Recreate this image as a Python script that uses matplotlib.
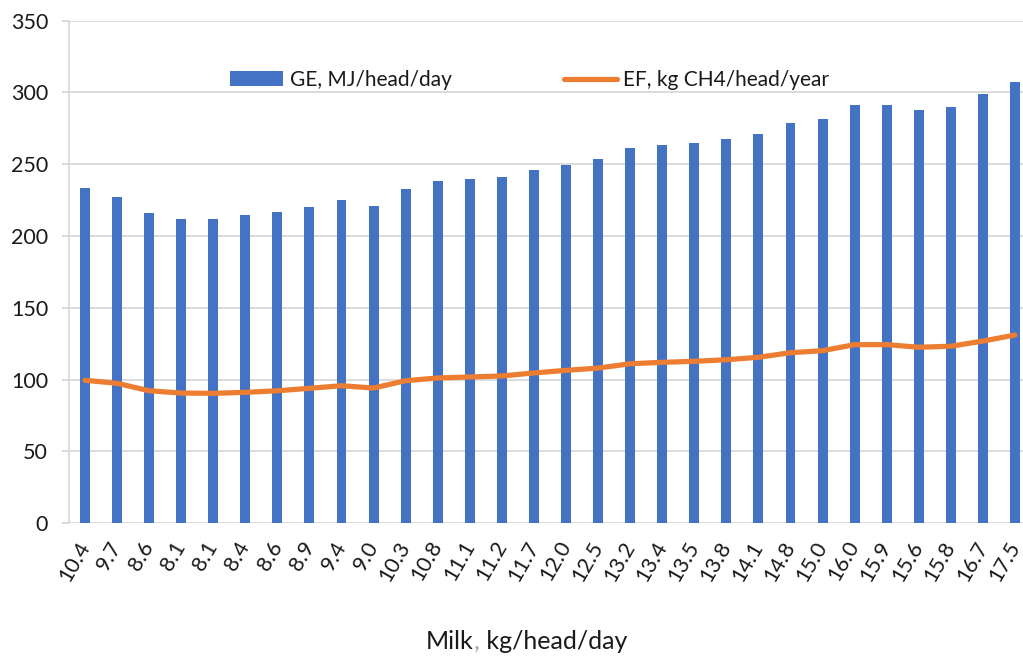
import matplotlib.pyplot as plt
import numpy as np

# Milk yield per cow, kg/head/day (category labels on the x axis)
milk = ["10.4", "9.7", "8.6", "8.1", "8.1", "8.4", "8.6", "8.9", "9.4", "9.0",
        "10.3", "10.8", "11.1", "11.2", "11.7", "12.0", "12.5", "13.2", "13.4", "13.5",
        "13.8", "14.1", "14.8", "15.0", "16.0", "15.9", "15.6", "15.8", "16.7", "17.5"]

# Gross energy intake, MJ/head/day
ge = [233.5, 227.2, 216.3, 212.1, 212.0, 214.5, 217.0, 220.3, 224.9, 220.7,
      232.6, 238.2, 239.8, 241.2, 246.2, 249.5, 253.9, 261.4, 263.2, 264.8,
      267.6, 271.1, 278.5, 281.3, 291.3, 291.3, 287.8, 289.7, 298.7, 307.5]

# Enteric methane emission factor, kg CH4/head/year
ef = [99.6, 97.5, 92.3, 90.7, 90.5, 91.2, 92.3, 94.0, 95.8, 94.2,
      99.3, 101.2, 101.9, 102.6, 104.7, 106.5, 108.1, 111.1, 112.1, 112.8,
      113.9, 115.6, 118.8, 120.2, 124.4, 124.4, 122.6, 123.3, 126.9, 131.1]

BLUE = "#4472C4"
ORANGE = "#ED7D31"
GRID = "#D9D9D9"
TEXT = "#1a1a1a"

plt.rcParams["font.family"] = ["Lato", "DejaVu Sans"]

fig = plt.figure(figsize=(10.23, 6.57), dpi=100)
ax = fig.add_axes([0.0674, 0.2035, 0.9404, 0.765])

x = np.arange(len(milk))
bars = ax.bar(x, ge, width=0.31, color=BLUE, zorder=2, label="GE, MJ/head/day")
line, = ax.plot(x, ef, color=ORANGE, linewidth=3.75, solid_capstyle="round",
                zorder=3, label="EF, kg CH4/head/year")

ax.set_xlim(-0.5, len(milk) - 0.5)
ax.set_ylim(0, 350)
ax.set_yticks(np.arange(0, 351, 50))
ax.yaxis.grid(True, color=GRID, linewidth=1.3, zorder=0)
ax.set_axisbelow(True)

for side in ["top", "right", "bottom"]:
    ax.spines[side].set_visible(False)
ax.spines["left"].set_color(GRID)
ax.spines["left"].set_linewidth(1.3)

ax.tick_params(axis="y", length=5, width=1.3, color=GRID, pad=10,
               labelsize=15.5, labelcolor=TEXT)
ax.tick_params(axis="x", length=0, pad=14)
ax.set_xticks(x)
ax.set_xticklabels(milk, rotation=60, ha="right", va="center",
                   rotation_mode="anchor", fontsize=15.5, color=TEXT)

ax.legend([bars, line], [bars.get_label(), line.get_label()],
          loc="center", bbox_to_anchor=(0.479, 0.882), ncol=2, frameon=False,
          fontsize=15, handlelength=2.55, handletextpad=0.3, columnspacing=5.4,
          labelcolor=TEXT)

# axis title with a grey comma, built from three pieces
t1 = fig.text(0.4165, 0.0233, "Milk", fontsize=18, color=TEXT, va="center")
t2 = ax.annotate(",", xy=(1, 0), xycoords=t1, va="bottom", ha="left",
                 fontsize=18, color="#A6A6A6", annotation_clip=False)
ax.annotate(" kg/head/day", xy=(1, 0), xycoords=t2, va="bottom", ha="left",
            fontsize=18, color=TEXT, annotation_clip=False)

fig.savefig("out.png", dpi=100)
